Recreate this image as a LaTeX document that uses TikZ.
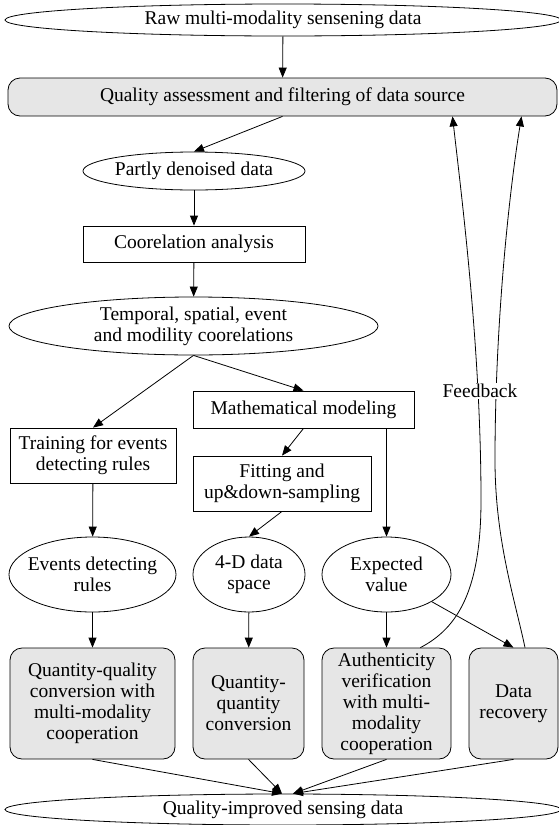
\documentclass[tikz,border=0pt]{standalone}
\usepackage{fontspec}
\setmainfont{Liberation Serif}
\usetikzlibrary{shapes.geometric, arrows.meta}

\definecolor{boxgray}{RGB}{230, 230, 230}

\begin{document}
\begin{tikzpicture}[x=1pt, y=-1pt, line width=0.8pt, font=\fontsize{19.5}{21}\selectfont,
    oval/.style={draw, ellipse, inner xsep=-30pt, inner ysep=-6pt, align=center},
    plainbox/.style={draw, rectangle, inner sep=0pt, align=center},
    graybox/.style={draw, fill=boxgray, rounded corners=12pt, inner sep=0pt, align=center},
    edge/.style={-{Triangle[length=10pt, width=8pt]}}]

            \useasboundingbox (0,0) rectangle (559,825);

            \node[oval, minimum width=556pt, minimum height=32pt] (raw) at (283, 20) {Raw multi-modality sensening data};
            \node[graybox, minimum width=549pt, minimum height=38pt] (qa) at (282.5, 97) {Quality assessment and filtering of data source};
            \node[oval, minimum width=222pt, minimum height=38pt] (partly) at (194, 171) {Partly denoised data};
            \node[plainbox, minimum width=222pt, minimum height=36pt] (corr) at (194, 244) {Coorelation analysis};
            \node[oval, minimum width=369pt, minimum height=58pt] (temporal) at (193.5, 326) {Temporal, spatial, event\\and modility coorelations};

            \node[plainbox, minimum width=221pt, minimum height=37pt] (math) at (303.5, 409.5) {Mathematical modeling};
            \node[plainbox, minimum width=166pt, minimum height=55pt] (training) at (93, 455.5) {Training for events\\detecting rules};
            \node[plainbox, minimum width=178pt, minimum height=55pt] (fitting) at (282, 483.5) {Fitting and\\up\&down-sampling};

            \node[oval, minimum width=167pt, minimum height=75pt] (events) at (92.5, 574.5) {Events detecting\\rules};
            \node[oval, minimum width=112pt, minimum height=75pt] (fourd) at (249, 574.5) {4-D data\\space};
            \node[oval, minimum width=129pt, minimum height=75pt] (expected) at (386.5, 574.5) {Expected\\value};

            \node[graybox, minimum width=165pt, minimum height=111pt] (qqual) at (92.5, 703.5) {Quantity-quality\\conversion with\\multi-modality\\cooperation};
            \node[graybox, minimum width=111pt, minimum height=111pt] (qquan) at (248.5, 703.5) {Quantity-\\quantity\\conversion};
            \node[graybox, minimum width=129pt, minimum height=111pt] (auth) at (386.5, 703.5) {Authenticity\\verification\\with multi-\\modality\\cooperation};
            \node[graybox, minimum width=89pt, minimum height=111pt] (recovery) at (513.5, 703.5) {Data\\recovery};

            \node[oval, minimum width=556pt, minimum height=31pt] (improved) at (283, 809.5) {Quality-improved sensing data};

            \draw[edge] (raw) -- (qa);
            \draw[edge] (qa.south) -- (partly.north);
            \draw[edge] (partly) -- (corr);
            \draw[edge] (corr) -- (temporal);
            \draw[edge] (temporal.south) -- (training.north);
            \draw[edge] (temporal.south) -- (math.north);
            \draw[edge] (math.south) -- (fitting.north);
            \draw[edge] (expected |- math.south) -- (expected.north);
            \draw[edge] (training) -- (events);
            \draw[edge] (fitting.south) -- (fourd.north);

            \draw[edge] (events) -- (qqual);
            \draw[edge] (fourd) -- (qquan);
            \draw[edge] (expected) -- (auth);
            \draw[edge] (expected.-31) -- (recovery.north);

            \draw[edge] (qqual.south) -- ([xshift=-1pt]improved.north);
            \draw[edge] (qquan.south) -- ([xshift=-1pt]improved.north);
            \draw[edge] (auth.south) -- ([xshift=10pt]improved.north);
            \draw[edge] (recovery.south) -- ([xshift=10pt]improved.north);

            \draw[edge] ([xshift=-31pt]auth.north east) .. controls (458, 628) and (481, 590) .. (481, 500)
            .. controls (481, 350) and (462, 200) .. ([xshift=170pt]qa.south);
            \draw[edge] ([xshift=11.5pt]recovery.north) .. controls (515, 600) and (495, 540) .. (495, 460)
            .. controls (495, 330) and (508, 200) .. ([xshift=239pt]qa.south);

            \node[fill=white, inner sep=1pt] (feedback) at (480, 391) {Feedback};

        \end{tikzpicture}
\end{document}
